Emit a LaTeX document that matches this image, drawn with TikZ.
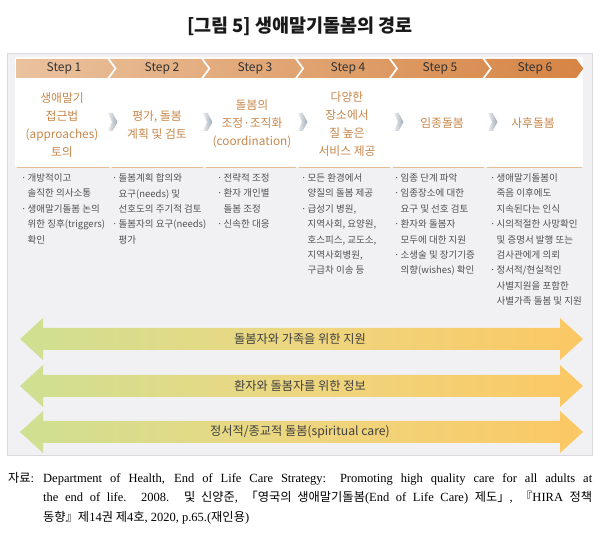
\documentclass[tikz,border=0pt]{standalone}
\usepackage{fontspec}
\setmainfont{Liberation Serif}
\newfontfamily\kr{Noto Sans CJK KR}
\newfontfamily\krf{Noto Sans CJK KR}[Scale=0.98]
\definecolor{panelgray}{RGB}{241,241,243}
\definecolor{panelline}{RGB}{218,218,220}
\definecolor{chevL}{RGB}{234,194,158}
\definecolor{chevR}{RGB}{214,132,68}
\definecolor{titlecol}{RGB}{200,135,75}
\definecolor{bultext}{RGB}{80,80,80}
\definecolor{sepline}{RGB}{229,190,150}
\definecolor{arrL}{RGB}{206,224,146}
\definecolor{arrM}{RGB}{238,214,128}
\definecolor{arrR}{RGB}{251,200,100}
\definecolor{smallL}{RGB}{236,238,240}
\definecolor{smallR}{RGB}{160,172,184}
\newcommand{\bdot}{·\hspace{1.2pt}}
\newcommand{\bind}{\phantom{·}\hspace{1.2pt}}
\tikzset{
  steplabel/.style={font=\kr\fontsize{12}{14}\selectfont, text=black!80, inner sep=0pt},
  coltitle/.style={font=\kr\fontsize{11.8}{18}\selectfont, text=titlecol, align=center, inner sep=0pt},
  bullets/.style={font=\kr\fontsize{9.5}{15.4}\selectfont, text=bultext, align=left, inner sep=0pt, anchor=north west},
  arrowtext/.style={font=\kr\fontsize{12.2}{14}\selectfont, text=black!75, inner sep=0pt},
  bigarrow/.style={left color=arrL, right color=arrR, middle color=arrM, draw=none},
  smallchev/.style={left color=smallL, right color=smallR, draw=none}
}
\begin{document}
\begin{tikzpicture}[x=1pt,y=-1pt]
\useasboundingbox (0,0) rectangle (600,534);
\fill[white] (0,0) rectangle (600,534);
% title
\node[font=\kr\bfseries\fontsize{18.5}{21}\selectfont, inner sep=0pt, text=black!90] (title) at (300,26) {[그림 5] 생애말기돌봄의 경로};
% panel
\draw[draw=panelline, fill=panelgray, line width=0.8pt] (7,53) rectangle (592,455);
\fill[white] (15,57) rectangle (583,167);
% step chevrons
\path[left color=chevL, right color=chevR]
  (16,59) -- (107.3,59) -- (114.3,68.5) -- (107.3,78) -- (16,78) -- cycle
  (109.8,59) -- (201.1,59) -- (208.1,68.5) -- (201.1,78) -- (109.8,78) -- (116.8,68.5) -- cycle
  (203.6,59) -- (294.9,59) -- (301.9,68.5) -- (294.9,78) -- (203.6,78) -- (210.6,68.5) -- cycle
  (297.4,59) -- (388.7,59) -- (395.7,68.5) -- (388.7,78) -- (297.4,78) -- (304.4,68.5) -- cycle
  (391.2,59) -- (482.5,59) -- (489.5,68.5) -- (482.5,78) -- (391.2,78) -- (398.2,68.5) -- cycle
  (485,59) -- (576.3,59) -- (583.3,68.5) -- (576.3,78) -- (485,78) -- (492,68.5) -- cycle;
\node[steplabel] (s1) at (64,68.5) {Step 1};
\node[steplabel] (s2) at (162,68.5) {Step 2};
\node[steplabel] (s3) at (255,68.5) {Step 3};
\node[steplabel] (s4) at (348,68.5) {Step 4};
\node[steplabel] (s5) at (440,68.5) {Step 5};
\node[steplabel] (s6) at (535,68.5) {Step 6};
% column titles
\node[coltitle] (t1) at (62,125) {생애말기\\접근법\\(approaches)\\토의};
\node[coltitle] (t2) at (157,125) {평가, 돌봄\\계획 및 검토};
\node[coltitle] (t3) at (252,124) {돌봄의\\조정·조직화\\(coordination)};
\node[coltitle] (t4) at (347,124) {다양한\\장소에서\\질 높은\\서비스 제공};
\node[coltitle] (t5) at (442,123) {임종돌봄};
\node[coltitle] (t6) at (533,123) {사후돌봄};
% small chevrons
\foreach \L in {108,203,298,394,488}{
  \path[smallchev] (\L,113) -- (\L+4.5,113) -- (\L+9.5,122) -- (\L+4.5,131) -- (\L,131) -- (\L+4,122) -- cycle;
}
% separator lines
\foreach \a/\b in {17/108.8,111.8/202.6,205.6/296.4,299.4/390.2,393.2/484,487/582}{
  \draw[sepline, line width=1.6pt] (\a,167.5) -- (\b,167.5);
}
% bullets
\node[bullets] (b1) at (21,173.5) {\bdot 개방적이고\\\bind 솔직한 의사소통\\\bdot 생애말기돌봄 논의\\\bind 위한 징후(triggers)\\\bind 확인};
\node[bullets] (b2) at (112,173.5) {\bdot 돌봄계획 합의와\\\bind 요구(needs) 및\\\bind 선호도의 주기적 검토\\\bdot 돌봄자의 요구(needs)\\\bind 평가};
\node[bullets] (b3) at (217,173.5) {\bdot 전략적 조정\\\bdot 환자 개인별\\\bind 돌봄 조정\\\bdot 신속한 대응};
\node[bullets] (b4) at (301,173.5) {\bdot 모든 환경에서\\\bind 양질의 돌봄 제공\\\bdot 급성기 병원,\\\bind 지역사회, 요양원,\\\bind 호스피스, 교도소,\\\bind 지역사회병원,\\\bind 구급차 이송 등};
\node[bullets] (b5) at (394,173.5) {\bdot 임종 단계 파악\\\bdot 임종장소에 대한\\\bind 요구 및 선호 검토\\\bdot 환자와 돌봄자\\\bind 모두에 대한 지원\\\bdot 소생술 및 장기기증\\\bind 의향(wishes) 확인};
\node[bullets] (b6) at (490,173.5) {\bdot 생애말기돌봄이\\\bind 죽음 이후에도\\\bind 지속된다는 인식\\\bdot 시의적절한 사망확인\\\bind 및 증명서 발행 또는\\\bind 검사관에게 의뢰\\\bdot 정서적/현실적인\\\bind 사별지원을 포함한\\\bind 사별가족 돌봄 및 지원};
% big arrows
\foreach \c/\n/\t in {339/a1/{돌봄자와 가족을 위한 지원}, 386/a2/{환자와 돌봄자를 위한 정보}, 432/a3/{정서적/종교적 돌봄(spiritual care)}}{
  \path[bigarrow] (20,\c) -- (43,\c-21) -- (43,\c-11) -- (560,\c-11) -- (560,\c-21) -- (583,\c)
     -- (560,\c+21) -- (560,\c+11) -- (43,\c+11) -- (43,\c+21) -- cycle;
  \node[arrowtext] (\n) at (300,\c) {\t};
}
% footnote
\node[anchor=north west, inner sep=0pt] (note) at (8,472)
{\parbox{584pt}{\fontsize{12.5}{19.5}\selectfont\hangindent=35pt\hangafter=1\noindent\makebox[35pt][l]{{\krf 자료}:}Department of Health, End of Life Care Strategy: Promoting high quality care for all adults at\linebreak the end of life. 2008. {\krf 및 신양준}, {\krf 「영국의 생애말기돌봄}(End of Life Care) {\krf 제도」}, {\krf 『}HIRA {\krf 정책}\linebreak {\krf 동향』제}14{\krf 권 제}4{\krf 호}, 2020, p.65.({\krf 재인용})}};
\end{tikzpicture}
\end{document}
